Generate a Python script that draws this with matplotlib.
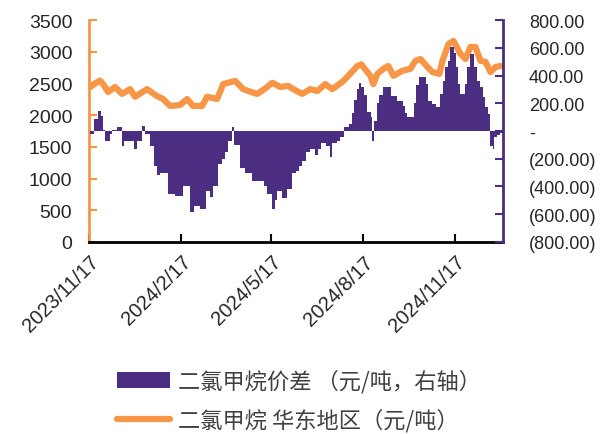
import numpy as np
import pandas as pd
import matplotlib
matplotlib.use("Agg")
import matplotlib.pyplot as plt
import matplotlib.dates as mdates
from matplotlib.patches import Patch
from matplotlib.lines import Line2D
from matplotlib.ticker import FixedLocator, FuncFormatter

plt.rcParams['font.family'] = ['Liberation Sans', 'Noto Sans CJK SC', 'DejaVu Sans']

# 二氯甲烷 华东地区 price (元/吨), left axis
price_dates = [
    '2023-11-18', '2023-11-23', '2023-11-28', '2023-12-02', '2023-12-06', '2023-12-13',
    '2023-12-20', '2023-12-28', '2024-01-02', '2024-01-14', '2024-01-24', '2024-01-30',
    '2024-02-06', '2024-02-16', '2024-02-23', '2024-02-29', '2024-03-09', '2024-03-14',
    '2024-03-24', '2024-03-30', '2024-04-11', '2024-04-19', '2024-04-26', '2024-05-03',
    '2024-05-11', '2024-05-18', '2024-05-26', '2024-06-03', '2024-06-07', '2024-06-17',
    '2024-06-25', '2024-07-02', '2024-07-10', '2024-07-17', '2024-07-27', '2024-08-02',
    '2024-08-11', '2024-08-15', '2024-08-21', '2024-08-24', '2024-08-27', '2024-08-31',
    '2024-09-06', '2024-09-11', '2024-09-16', '2024-09-25', '2024-10-03', '2024-10-08',
    '2024-10-13', '2024-10-20', '2024-10-25', '2024-11-01', '2024-11-04', '2024-11-10',
    '2024-11-15', '2024-11-22', '2024-11-27', '2024-12-02', '2024-12-07', '2024-12-12',
    '2024-12-17', '2024-12-22', '2024-12-27', '2025-01-01',
]
price_values = [
    2440, 2500, 2545, 2470, 2365, 2445,
    2335, 2410, 2290, 2410, 2300, 2255,
    2145, 2160, 2255, 2145, 2145, 2290,
    2255, 2490, 2540, 2410, 2370, 2335,
    2420, 2510, 2445, 2460, 2420, 2335,
    2410, 2380, 2490, 2410, 2525, 2620,
    2775, 2800, 2680, 2620, 2490, 2650,
    2730, 2775, 2620, 2700, 2730, 2855,
    2885, 2760, 2680, 2650, 2855, 3120,
    3170, 2965, 2885, 3075, 3075, 2855,
    2840, 2680, 2760, 2775,
]

# 二氯甲烷价差 (元/吨), right axis
spread_dates = [
    '2023-11-18', '2023-11-22', '2023-11-26', '2023-11-29', '2023-12-01', '2023-12-03',
    '2023-12-08', '2023-12-10', '2023-12-15', '2023-12-20', '2023-12-22', '2024-01-01',
    '2024-01-04', '2024-01-09', '2024-01-12', '2024-01-17', '2024-01-21', '2024-01-24',
    '2024-01-27', '2024-02-04', '2024-02-11', '2024-02-19', '2024-02-26', '2024-03-01',
    '2024-03-07', '2024-03-13', '2024-03-17', '2024-03-20', '2024-03-25', '2024-03-29',
    '2024-04-01', '2024-04-04', '2024-04-08', '2024-04-10', '2024-04-16', '2024-04-21',
    '2024-04-28', '2024-05-10', '2024-05-13', '2024-05-18', '2024-05-21', '2024-05-23',
    '2024-05-28', '2024-06-02', '2024-06-07', '2024-06-11', '2024-06-14', '2024-06-17',
    '2024-06-21', '2024-06-25', '2024-06-30', '2024-07-03', '2024-07-06', '2024-07-11',
    '2024-07-15', '2024-07-17', '2024-07-22', '2024-07-25', '2024-07-29', '2024-08-03',
    '2024-08-06', '2024-08-08', '2024-08-11', '2024-08-13', '2024-08-15', '2024-08-18',
    '2024-08-21', '2024-08-25', '2024-08-26', '2024-08-28', '2024-08-31', '2024-09-02',
    '2024-09-06', '2024-09-14', '2024-09-20', '2024-09-26', '2024-09-28', '2024-09-30',
    '2024-10-07', '2024-10-09', '2024-10-12', '2024-10-19', '2024-10-21', '2024-10-25',
    '2024-10-29', '2024-11-02', '2024-11-05', '2024-11-07', '2024-11-10', '2024-11-12',
    '2024-11-16', '2024-11-18', '2024-11-20', '2024-11-22', '2024-11-27', '2024-11-29',
    '2024-12-02', '2024-12-06', '2024-12-09', '2024-12-12', '2024-12-15', '2024-12-17',
    '2024-12-20', '2024-12-22', '2024-12-24', '2024-12-25', '2024-12-28', '2024-12-31',
]
spread_values = [
    -25, 86, 145, 110, 5, -70,
    -25, 10, 30, -105, -70, -130,
    -70, 35, -20, -105, -250, -320,
    -300, -455, -470, -400, -585, -540,
    -560, -430, -475, -395, -240, -200,
    -150, -70, 30, -100, -270, -300,
    -360, -400, -455, -560, -500, -430,
    -480, -420, -300, -290, -250, -215,
    -150, -130, -170, -130, -85, -110,
    -190, -85, -70, -40, 30, 50,
    130, 220, 300, 346, 320, 260,
    140, 100, -72, 72, 200, 260,
    317, 252, 216, 180, 130, 100,
    200, 330, 390, 340, 216, 195,
    170, 267, 360, 461, 504, 605,
    560, 461, 340, 267, 340, 461,
    555, 461, 360, 317, 245, 173,
    122, -110, -130, -40, -30, -15,
]
spread_end = '2025-01-02'

x_start, x_end = '2023-11-17', '2025-01-03'
tick_dates = ['2023-11-17', '2024-02-17', '2024-05-17', '2024-08-17', '2024-11-17']
tick_labels = ['2023/11/17', '2024/2/17', '2024/5/17', '2024/8/17', '2024/11/17']
left_ticks = [0, 500, 1000, 1500, 2000, 2500, 3000, 3500]
right_ticks = [-800, -600, -400, -200, 0, 200, 400, 600, 800]

label_spread = '二氯甲烷价差 （元/吨，右轴）'
label_price = '二氯甲烷 华东地区（元/吨）'

purple = '#4B2D82'
orange = '#F79646'
text_color = '#262626'

fig = plt.figure(figsize=(6.12, 4.35), dpi=100)
ax = fig.add_axes([0.1454, 0.4414, 0.6757, 0.5103])
ax2 = ax.twinx()

# price line
px = mdates.date2num(pd.to_datetime(price_dates))
ax.plot(px, price_values, color=orange, lw=4.5, solid_capstyle='round',
        solid_joinstyle='round', zorder=2)

# spread bars
sx = mdates.date2num(pd.to_datetime(spread_dates))
s_edges = np.append(sx, mdates.date2num(pd.Timestamp(spread_end)))
ax2.bar(sx, spread_values, width=np.diff(s_edges), align='edge',
        color=purple, linewidth=0, zorder=3)

xlo = mdates.date2num(pd.Timestamp(x_start))
xhi = mdates.date2num(pd.Timestamp(x_end))
ax.set_xlim(xlo, xhi)
ax.set_ylim(0, 3500)
ax2.set_ylim(-800, 800)

ax.xaxis.set_major_locator(FixedLocator(mdates.date2num(pd.to_datetime(tick_dates))))
ax.set_xticklabels(tick_labels, rotation=45, ha='right', va='top',
                   rotation_mode='anchor', fontsize=14.5, color=text_color)
ax.set_yticks(left_ticks)
ax.set_yticklabels([str(v) for v in left_ticks], fontsize=14, color=text_color)
ax2.set_yticks(right_ticks)


def fmt_right(v, pos=None):
    if v == 0:
        return '-'
    if v < 0:
        return f'({abs(v):.2f})'
    return f'{v:.2f}'


ax2.yaxis.set_major_formatter(FuncFormatter(fmt_right))
for lab in ax2.get_yticklabels():
    lab.set_horizontalalignment('left')

ax.tick_params(axis='y', direction='in', length=6, width=1.5, color=orange, pad=12)
ax.tick_params(axis='x', direction='in', length=6, width=1.5, color='black', pad=7)
ax2.tick_params(axis='y', direction='in', length=6, width=1.5, color=purple,
                pad=19, labelsize=13, labelcolor=text_color)

for a in (ax, ax2):
    a.spines['top'].set_visible(False)
ax.spines['left'].set_color(orange)
ax.spines['left'].set_linewidth(2)
ax.spines['bottom'].set_color('black')
ax.spines['bottom'].set_linewidth(2)
ax.spines['right'].set_visible(False)
ax2.spines['left'].set_visible(False)
ax2.spines['bottom'].set_visible(False)
ax2.spines['right'].set_color(purple)
ax2.spines['right'].set_linewidth(2)

handles = [Patch(facecolor=purple, edgecolor='none'),
           Line2D([], [], color=orange, lw=4.5, solid_capstyle='round')]
fig.legend(handles, [label_spread, label_price], loc='upper left',
           bbox_to_anchor=(0.191, 0.149), frameon=False,
           prop={'family': ['Noto Sans CJK SC'], 'size': 16},
           labelcolor='#404040', handlelength=2.39, handleheight=0.68,
           handletextpad=0.36, labelspacing=0.68, borderpad=0, borderaxespad=0)

fig.savefig('out.png', dpi=100)
